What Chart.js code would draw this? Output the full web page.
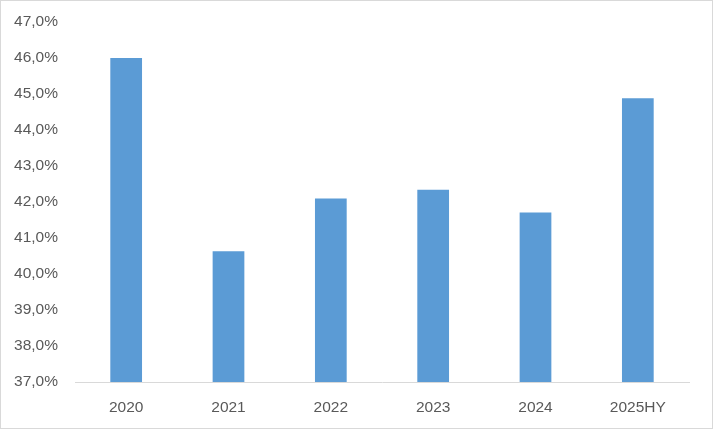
<!DOCTYPE html>
<html>
<head>
<meta charset="utf-8">
<script src="https://cdn.jsdelivr.net/npm/chart.js@4/dist/chart.umd.min.js"></script>
<style>
html,body{margin:0;padding:0;background:#fff;}
#wrap{position:relative;width:711px;height:427px;border:1px solid #d9d9d9;}
</style>
</head>
<body>
<div id="wrap"><canvas id="c" width="711" height="427"></canvas></div>
<script>
const categories = ["2020", "2021", "2022", "2023", "2024", "2025HY"];
const values = [46.0, 40.63, 42.1, 42.34, 41.71, 44.88];
const yMin = 37;
const yMax = 47;
const yStep = 1;

new Chart(document.getElementById('c'), {
  type: 'bar',
  data: {
    labels: categories,
    datasets: [{
      data: values,
      backgroundColor: '#5b9bd5',
      borderWidth: 0,
      categoryPercentage: 1.0,
      barPercentage: 0.31
    }]
  },
  options: {
    responsive: false,
    animation: false,
    layout: { padding: { left: 0, right: 23, top: 21, bottom: 0 } },
    plugins: { legend: { display: false }, tooltip: { enabled: false } },
    scales: {
      x: {
        grid: { display: false, drawTicks: false },
        border: { display: true, color: '#d9d9d9', width: 1 },
        ticks: { color: '#595959', font: { family: 'Liberation Sans', size: 15.5 }, padding: 16 },
        afterFit: s => { s.height = 46; }
      },
      y: {
        min: yMin, max: yMax,
        grid: { display: false, drawTicks: false },
        border: { display: false },
        ticks: {
          stepSize: yStep,
          color: '#595959',
          font: { family: 'Liberation Sans', size: 15.5 },
          padding: 17,
          callback: v => v.toFixed(1).replace('.', ',') + '%'
        },
        afterFit: s => { s.width = 74; s.paddingTop = 0; s.paddingBottom = 0; }
      }
    }
  }
});
</script>
</body>
</html>
